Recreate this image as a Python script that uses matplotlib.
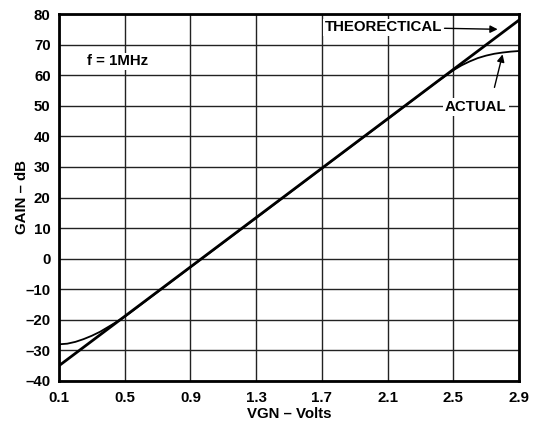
import matplotlib
matplotlib.use("Agg")
import matplotlib.pyplot as plt
import numpy as np

plt.rcParams['font.family'] = ['Liberation Sans', 'DejaVu Sans']
plt.rcParams['font.weight'] = 'bold'

theory_x = [0.1, 2.9]
theory_y = [-35.0, 78.0]

actual_x = [0.1, 0.15, 0.2, 0.25, 0.3, 0.35, 0.4, 0.45, 0.5, 0.9, 1.3, 1.7, 2.1,
            2.4, 2.5, 2.55, 2.6, 2.65, 2.7, 2.75, 2.8, 2.85, 2.9]
actual_y = [-28.0, -27.8, -27.2, -26.3, -25.2, -23.9, -22.3, -20.7, -19.0, -2.8, 13.3, 29.5, 45.6,
            57.8, 61.6, 63.2, 64.5, 65.6, 66.4, 67.0, 67.4, 67.7, 67.9]

xticks = [0.1, 0.5, 0.9, 1.3, 1.7, 2.1, 2.5, 2.9]
xtick_labels = ["0.1", "0.5", "0.9", "1.3", "1.7", "2.1", "2.5", "2.9"]
yticks = [-40, -30, -20, -10, 0, 10, 20, 30, 40, 50, 60, 70, 80]
ytick_labels = ["\u201340", "\u201330", "\u201320", "\u201310", "0", "10", "20", "30", "40", "50", "60", "70", "80"]

fig = plt.figure(figsize=(5.34, 4.26), dpi=100)
ax = fig.add_axes([59/534, 1-381/426, (519-59)/534, (381-14)/426])

ax.set_xlim(0.1, 2.9)
ax.set_ylim(-40, 80)
ax.set_xticks(xticks)
ax.set_xticklabels(xtick_labels, fontsize=10.8, fontweight='bold')
ax.set_yticks(yticks)
ax.set_yticklabels(ytick_labels, fontsize=10.8, fontweight='bold')
ax.tick_params(axis='y', length=0, pad=6)
ax.tick_params(axis='x', length=0, pad=7)
ax.grid(True, color='#222222', linewidth=1.0)
ax.set_axisbelow(True)
for s in ax.spines.values():
    s.set_linewidth(2.0)
    s.set_color('black')

ax.plot(actual_x, actual_y, color='black', linewidth=1.3, zorder=3)
ax.plot(theory_x, theory_y, color='black', linewidth=2.0, zorder=4)

ax.set_xlabel("VGN \u2013 Volts", fontsize=10.8, fontweight='bold')
ax.set_ylabel("GAIN \u2013 dB", fontsize=10.8, fontweight='bold')
ax.xaxis.set_label_coords(0.5, -33/367)
ax.xaxis.label.set_va('center')
ax.yaxis.set_label_coords(-37/460, 0.5)
ax.yaxis.label.set_va('center')

ax.text(0.27, 64.5, "f = 1MHz", fontsize=10.8, fontweight='bold', ha='left', va='center',
        bbox=dict(facecolor='white', edgecolor='none', pad=1), zorder=5)

ax.annotate("THEORECTICAL", xy=(2.77, 75.0), xytext=(2.43, 75.7),
            fontsize=10.8, fontweight='bold', ha='right', va='center',
            bbox=dict(facecolor='white', edgecolor='none', pad=1),
            arrowprops=dict(arrowstyle='-|>', color='black', lw=1.0,
                            mutation_scale=11, shrinkA=1, shrinkB=0),
            zorder=6)

ax.annotate("ACTUAL", xy=(2.80, 66.8), xytext=(2.825, 49.5),
            fontsize=10.8, fontweight='bold', ha='right', va='center',
            bbox=dict(facecolor='white', edgecolor='none', pad=1.5),
            arrowprops=dict(arrowstyle='-|>', color='black', lw=1.0,
                            mutation_scale=11, shrinkA=8, shrinkB=0,
                            relpos=(0.75, 1.0)),
            zorder=6)

fig.savefig("out.png", dpi=100, facecolor='white')
